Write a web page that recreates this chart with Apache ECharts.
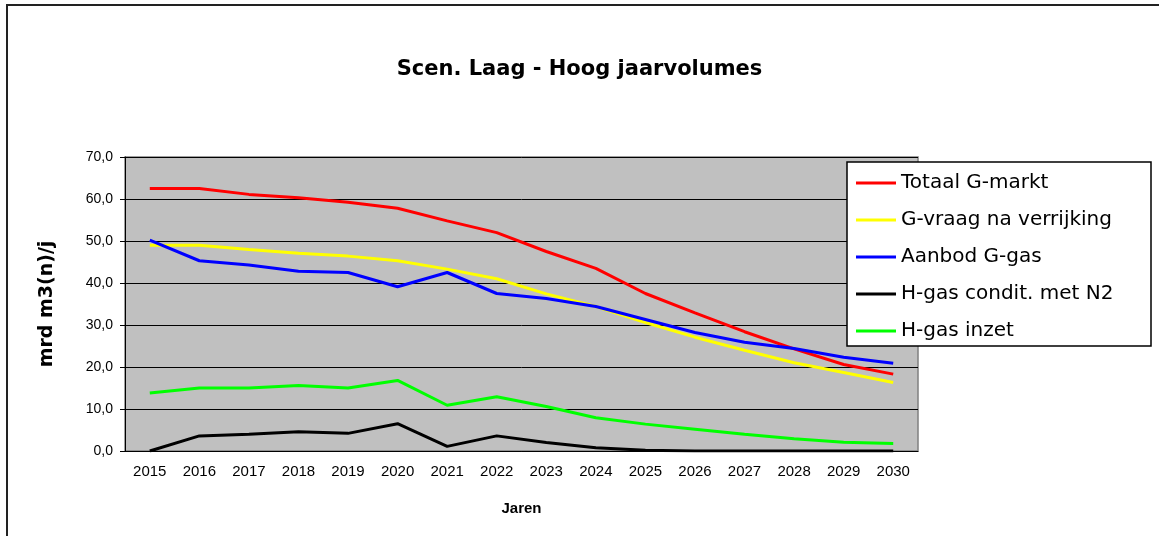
<!DOCTYPE html>
<html>
<head>
<meta charset="utf-8">
<script src="https://cdn.jsdelivr.net/npm/echarts@6/dist/echarts.min.js"></script>
<style>
  html, body { margin: 0; padding: 0; background: #fff; }
  #myChart { width: 1159px; height: 536px; }
</style>
</head>
<body>
<div id="myChart"></div>
<script>
  // jaren en waarden (mrd m3(n)/j)
  var jaren = ['2015','2016','2017','2018','2019','2020','2021','2022','2023','2024','2025','2026','2027','2028','2029','2030'];
  var totaalGMarkt = [62.5, 62.5, 61.1, 60.3, 59.2, 57.8, 54.8, 52.0, 47.5, 43.5, 37.5, 32.9, 28.4, 24.3, 20.6, 18.3];
  var gVraag = [49.0, 49.0, 48.0, 47.1, 46.4, 45.3, 43.3, 41.0, 37.4, 34.4, 30.6, 27.1, 24.0, 21.0, 18.7, 16.3];
  var aanbodGGas = [50.2, 45.3, 44.3, 42.8, 42.5, 39.1, 42.5, 37.5, 36.3, 34.4, 31.3, 28.2, 25.9, 24.4, 22.3, 20.9];
  var hGasCondit = [0.0, 3.6, 4.0, 4.6, 4.2, 6.5, 1.1, 3.6, 2.0, 0.8, 0.2, 0.0, 0.0, 0.0, 0.0, 0.0];
  var hGasInzet = [13.8, 15.0, 15.0, 15.6, 15.0, 16.8, 10.9, 12.9, 10.6, 7.9, 6.4, 5.2, 4.0, 2.9, 2.1, 1.8];
  var reeksNamen = ['Totaal G-markt', 'G-vraag na verrijking', 'Aanbod G-gas', 'H-gas condit. met N2', 'H-gas inzet'];
  var kleuren = ['#ff0000', '#ffff00', '#0000ff', '#000000', '#00ff00'];

  var myChart = echarts.init(document.getElementById('myChart'));

  function lijn(i, data) {
    return {
      name: reeksNamen[i],
      type: 'line',
      data: data,
      symbol: 'none',
      color: kleuren[i],
      lineStyle: { width: 3, color: kleuren[i] }
    };
  }

  var option = {
    animation: false,
    backgroundColor: '#fff',
    title: {
      text: 'Scen. Laag - Hoog jaarvolumes',
      left: 'center',
      top: 54,
      textStyle: { fontFamily: 'DejaVu Sans', fontWeight: 'bold', fontSize: 21, color: '#000' }
    },
    graphic: [{
      type: 'rect',
      shape: { x: 7, y: 5, width: 1200, height: 600 },
      style: { fill: 'none', stroke: '#222', lineWidth: 2 },
      silent: true
    }],
    legend: {
      orient: 'vertical',
      left: 847,
      top: 162,
      padding: [10, 6, 4, 9],
      itemGap: 15,
      itemWidth: 40,
      itemHeight: 3,
      icon: 'rect',
      backgroundColor: '#fff',
      borderColor: '#000',
      borderWidth: 1.5,
      data: reeksNamen,
      textStyle: { fontFamily: 'DejaVu Sans', fontSize: 20, lineHeight: 22, color: '#000', width: 244 }
    },
    grid: {
      left: 125,
      right: 241,
      top: 157,
      bottom: 85,
      show: true,
      backgroundColor: '#c0c0c0',
      borderColor: '#808080',
      borderWidth: 1.5
    },
    xAxis: {
      type: 'category',
      data: jaren,
      boundaryGap: true,
      name: 'Jaren',
      nameLocation: 'middle',
      nameGap: 50,
      nameTextStyle: { fontFamily: 'Liberation Sans', fontWeight: 'bold', fontSize: 15, color: '#000' },
      axisLine: { lineStyle: { color: '#000', width: 1 } },
      axisTick: { length: 5, lineStyle: { color: '#000' } },
      axisLabel: { margin: 13, interval: 0, fontFamily: 'Liberation Sans Narrow, Liberation Sans', fontSize: 15, color: '#000' },
      splitLine: { show: false }
    },
    yAxis: {
      type: 'value',
      min: 0,
      max: 70,
      interval: 10,
      name: 'mrd m3(n)/j',
      nameLocation: 'middle',
      nameGap: 68,
      nameTextStyle: { fontFamily: 'DejaVu Sans', fontWeight: 'bold', fontSize: 19, color: '#000' },
      axisLine: { show: true, lineStyle: { color: '#000', width: 1 } },
      axisTick: { show: true, length: 5, lineStyle: { color: '#000' } },
      axisLabel: {
        margin: 12,
        fontFamily: 'Liberation Sans',
        fontSize: 14,
        color: '#000',
        formatter: function (v) { return v.toFixed(1).replace('.', ','); }
      },
      splitLine: { lineStyle: { color: '#000', width: 1 } }
    },
    series: [
      lijn(0, totaalGMarkt),
      lijn(1, gVraag),
      lijn(2, aanbodGGas),
      lijn(3, hGasCondit),
      lijn(4, hGasInzet)
    ]
  };

  myChart.setOption(option);
</script>
</body>
</html>
